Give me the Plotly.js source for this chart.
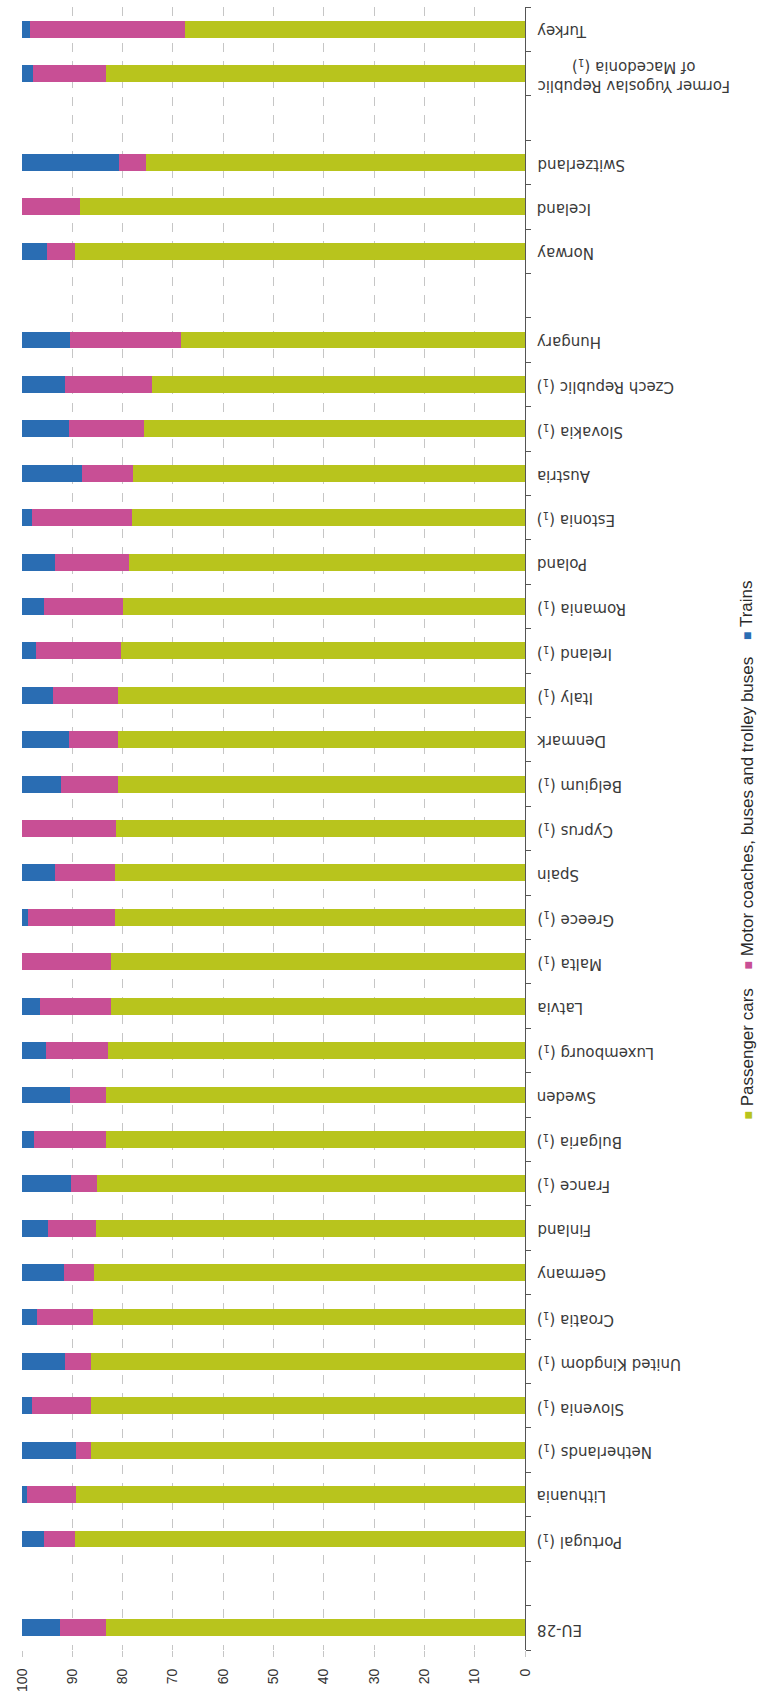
<!DOCTYPE html>
<html>
<head>
<meta charset="utf-8">
<script src="https://cdn.plot.ly/plotly-3.0.1.min.js"></script>
<style>html,body{margin:0;padding:0;background:#fff;}</style>
</head>
<body>
<div id="chart" style="width:758px;height:1693px;"></div>
<script>
// Categories listed bottom to top; blank entries are gaps between country groups
var categories = [
  "EU-28", " ",
  "Portugal (¹)", "Lithuania", "Netherlands (¹)", "Slovenia (¹)", "United Kingdom (¹)",
  "Croatia (¹)", "Germany", "Finland", "France (¹)", "Bulgaria (¹)", "Sweden",
  "Luxembourg (¹)", "Latvia", "Malta (¹)", "Greece (¹)", "Spain", "Cyprus (¹)",
  "Belgium (¹)", "Denmark", "Italy (¹)", "Ireland (¹)", "Romania (¹)", "Poland",
  "Estonia (¹)", "Austria", "Slovakia (¹)", "Czech Republic (¹)", "Hungary", "  ",
  "Norway", "Iceland", "Switzerland", "   ",
  "Former Yugoslav Republic<br>of Macedonia (¹)", "Turkey"
];
var passengerCars = [
  83.25, null,
  89.5, 89.2, 86.2, 86.2, 86.2,
  85.9, 85.6, 85.2, 85.0, 83.25, 83.25,
  83.0, 82.3, 82.3, 81.6, 81.6, 81.4,
  80.9, 80.9, 80.9, 80.4, 79.9, 78.7,
  78.2, 77.9, 75.8, 74.1, 68.3, null,
  89.5, 88.5, 75.3, null,
  83.25, 67.5
];
var motorCoaches = [
  9.2, null,
  6.2, 9.9, 3.0, 11.75, 5.2,
  11.1, 6.1, 9.6, 5.2, 14.45, 7.25,
  12.3, 14.2, 17.7, 17.3, 11.8, 18.6,
  11.3, 9.8, 12.9, 16.8, 15.7, 14.7,
  19.9, 10.2, 14.9, 17.3, 22.2, null,
  5.5, 11.5, 5.5, null,
  14.65, 30.85
];
var trains = [
  7.55, null,
  4.3, 0.9, 10.8, 2.05, 8.6,
  3.0, 8.3, 5.2, 9.8, 2.3, 9.5,
  4.7, 3.5, 0, 1.1, 6.6, 0,
  7.8, 9.3, 6.2, 2.8, 4.4, 6.6,
  1.9, 11.9, 9.3, 8.6, 9.5, null,
  5.0, 0, 19.2, null,
  2.1, 1.65
];
var seriesNames = ["Passenger cars", "Motor coaches, buses and trolley buses", "Trains"];
var seriesColors = ["#b8c41d", "#c84f95", "#2a6db3"];
var xTicks = [0, 10, 20, 30, 40, 50, 60, 70, 80, 90, 100];

var seriesValues = [passengerCars, motorCoaches, trains];
var traces = seriesValues.map(function (vals, i) {
  return {
    type: "bar",
    orientation: "h",
    name: seriesNames[i],
    x: vals,
    y: categories,
    marker: {color: seriesColors[i], line: {width: 0}},
    width: 0.38,
    hoverinfo: "x+y+name"
  };
});

// Plot area geometry (pixels)
var W = 758, H = 1693;
var mL = 22, mR = 233, mT = 7, mB = 43;
var plotW = W - mL - mR, plotH = H - mT - mB;
function px2paperX(px) { return (px - mL) / plotW; }
function px2paperY(py) { return (H - mB - py) / plotH; }

var annotations = [];

// Category labels: upside-down text to the right of the value-zero axis
categories.forEach(function (cat) {
  if (cat.trim() === "") return;
  annotations.push({
    xref: "paper", yref: "y",
    x: px2paperX(535), y: cat,
    xanchor: "left", yanchor: "middle",
    yshift: -2,
    textangle: 180,
    align: "center",
    showarrow: false,
    text: cat.replace("¹", "<sub>1</sub>"),
    font: {family: "DejaVu Sans, sans-serif", size: 15, color: "#3a3a3a"}
  });
});

// Legend drawn as rotated text (the whole figure is turned on its side)
var legendBottoms = [1122, 972, 642];
seriesNames.forEach(function (name, i) {
  annotations.push({
    xref: "paper", yref: "paper",
    x: px2paperX(747), y: px2paperY(legendBottoms[i]),
    xanchor: "center", yanchor: "bottom",
    textangle: -90,
    showarrow: false,
    text: "<span style='color:" + seriesColors[i] + ";font-size:14px'>■</span> " + name,
    font: {family: "Liberation Sans, Arial, sans-serif", size: 17, color: "#2a2a2a"}
  });
});

var layout = {
  width: W, height: H,
  margin: {l: mL, r: mR, t: mT, b: mB, pad: 0},
  paper_bgcolor: "#ffffff",
  plot_bgcolor: "#ffffff",
  barmode: "stack",
  showlegend: false,
  xaxis: {
    range: [100, 0],
    tickvals: xTicks,
    ticktext: xTicks.map(String),
    tickangle: -90,
    showgrid: true,
    gridcolor: "#c6c6c6",
    griddash: "dash",
    gridwidth: 1,
    zeroline: false,
    showline: false,
    ticks: "outside",
    ticklen: 6,
    tickcolor: "#c6c6c6",
    ticklabelstandoff: 6,
    tickfont: {family: "Liberation Sans, Arial, sans-serif", size: 14, color: "#333333"},
    fixedrange: true
  },
  yaxis: {
    type: "category",
    categoryorder: "array",
    categoryarray: categories,
    side: "right",
    range: [-0.5, categories.length - 0.5],
    showline: true,
    linecolor: "#555555",
    linewidth: 1,
    ticks: "outside",
    tickson: "boundaries",
    ticklen: 5,
    tickcolor: "#555555",
    showticklabels: false,
    showgrid: false,
    zeroline: false,
    fixedrange: true
  },
  annotations: annotations
};

Plotly.newPlot("chart", traces, layout, {displayModeBar: false, staticPlot: true});
</script>
</body>
</html>
